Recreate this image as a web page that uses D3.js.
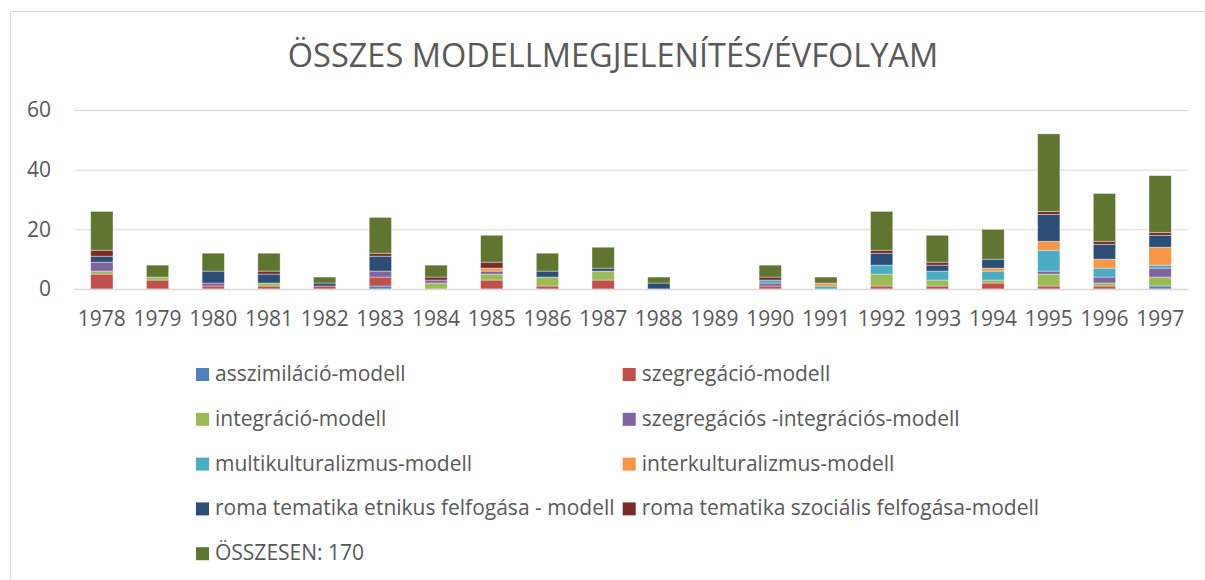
<!DOCTYPE html>
<html>
<head>
<meta charset="utf-8">
<script src="https://cdn.jsdelivr.net/npm/d3@7"></script>
<style>
  body { margin: 0; background: #fff; }
  svg { font-family: "Open Sans", sans-serif; }
</style>
</head>
<body>
<svg width="1205" height="580"></svg>
<script>
// years on the x axis
const years = ["1978","1979","1980","1981","1982","1983","1984","1985","1986","1987",
               "1988","1989","1990","1991","1992","1993","1994","1995","1996","1997"];

// series values, bottom to top of each stack
const asszimilacio  = [0,0,0,0,0,1,0,0,0,0,0,0,0,0,0,0,0,0,0,1];
const szegregacio   = [5,3,1,1,1,3,0,3,1,3,0,0,1,0,1,1,2,1,1,0];
const integracio    = [1,1,0,1,0,0,2,2,3,3,0,0,0,0,4,2,1,4,1,3];
const szegrInteg    = [3,0,1,0,0,2,1,1,0,0,0,0,1,0,0,0,0,1,2,3];
const multikult     = [0,0,0,0,0,0,0,0,0,0,0,0,1,1,3,3,3,7,3,1];
const interkult     = [0,0,0,0,0,0,0,1,0,0,0,0,0,1,0,0,1,3,3,6];
const etnikus       = [2,0,4,3,1,5,0,0,2,1,2,0,0,0,4,2,3,9,5,4];
const szocialis     = [2,0,0,1,0,1,1,2,0,0,0,0,1,0,1,1,0,1,1,1];
const osszesen      = [13,4,6,6,2,12,4,9,6,7,2,0,4,2,13,9,10,26,16,19];

const seriesNames = ["asszimiláció-modell","szegregáció-modell","integráció-modell",
  "szegregációs -integrációs-modell","multikulturalizmus-modell","interkulturalizmus-modell",
  "roma tematika etnikus felfogása - modell","roma tematika szociális felfogása-modell",
  "ÖSSZESEN: 170"];
const seriesValues = [asszimilacio, szegregacio, integracio, szegrInteg, multikult,
  interkult, etnikus, szocialis, osszesen];
const colors = ["#4F81BD","#C0504D","#9BBB59","#8064A2","#4BACC6","#F79646",
  "#2C4D75","#772C2A","#5F7530"];
const yTicks = [0, 20, 40, 60];

const svg = d3.select("svg");
const textColor = "#595959";

// chart frame
svg.append("rect")
  .attr("x", 10.5).attr("y", 11.5)
  .attr("width", 1220).attr("height", 600)
  .attr("fill", "#fff").attr("stroke", "#D9D9D9");

// title
svg.append("text")
  .attr("x", 613).attr("y", 67)
  .attr("text-anchor", "middle")
  .attr("fill", textColor)
  .style("font-size", "32.5px")
  .text("ÖSSZES MODELLMEGJELENÍTÉS/ÉVFOLYAM");

// scales
const x = d3.scaleBand().domain(years).range([74, 1188]).paddingInner(0.6).paddingOuter(0.3);
const y = d3.scaleLinear().domain([0, 60]).range([289, 110]);

// gridlines + y labels
const yAxis = svg.append("g")
  .attr("transform", "translate(74,0)")
  .call(d3.axisLeft(y).tickValues(yTicks).tickSize(-1114).tickPadding(23));
yAxis.select(".domain").remove();
yAxis.selectAll(".tick line").attr("stroke", "#D9D9D9");
yAxis.selectAll(".tick text").attr("fill", textColor).style("font-size", "21px")
  .style("font-family", "Open Sans, sans-serif");

// stacked data
const table = years.map((yr, i) => {
  const row = { year: yr };
  seriesNames.forEach((n, k) => row[n] = seriesValues[k][i]);
  return row;
});
const stacked = d3.stack().keys(seriesNames)(table);

svg.append("g")
  .selectAll("g")
  .data(stacked)
  .join("g")
  .attr("fill", (d, i) => colors[i])
  .selectAll("rect")
  .data(d => d.filter(s => s[1] > s[0]))
  .join("rect")
  .attr("x", d => x(d.data.year))
  .attr("y", d => y(d[1]))
  .attr("width", x.bandwidth())
  .attr("height", d => y(d[0]) - y(d[1]))
  .attr("stroke", "#fff")
  .attr("stroke-opacity", 0.5)
  .attr("stroke-width", 0.75);

// x axis
const xAxis = svg.append("g")
  .attr("transform", "translate(0,289)")
  .call(d3.axisBottom(x).tickSize(0).tickPadding(22));
xAxis.select(".domain").attr("stroke", "#D9D9D9").attr("stroke-width", 1.5);
xAxis.selectAll(".tick text").attr("fill", textColor).style("font-size", "21px")
  .style("font-family", "Open Sans, sans-serif");

// legend
const legendCols = [196, 622.7];
const legendRow0 = 381, legendStep = 44.8;
const legend = svg.append("g")
  .selectAll("g")
  .data(seriesNames)
  .join("g")
  .attr("transform", (d, i) => `translate(${legendCols[i % 2]},${legendRow0 + Math.floor(i / 2) * legendStep})`);
legend.append("rect")
  .attr("x", 0).attr("y", -13)
  .attr("width", 13).attr("height", 13)
  .attr("fill", (d, i) => colors[i]);
legend.append("text")
  .attr("x", 19).attr("y", 0)
  .attr("fill", textColor)
  .style("font-size", "21px")
  .text(d => d);
</script>
</body>
</html>
